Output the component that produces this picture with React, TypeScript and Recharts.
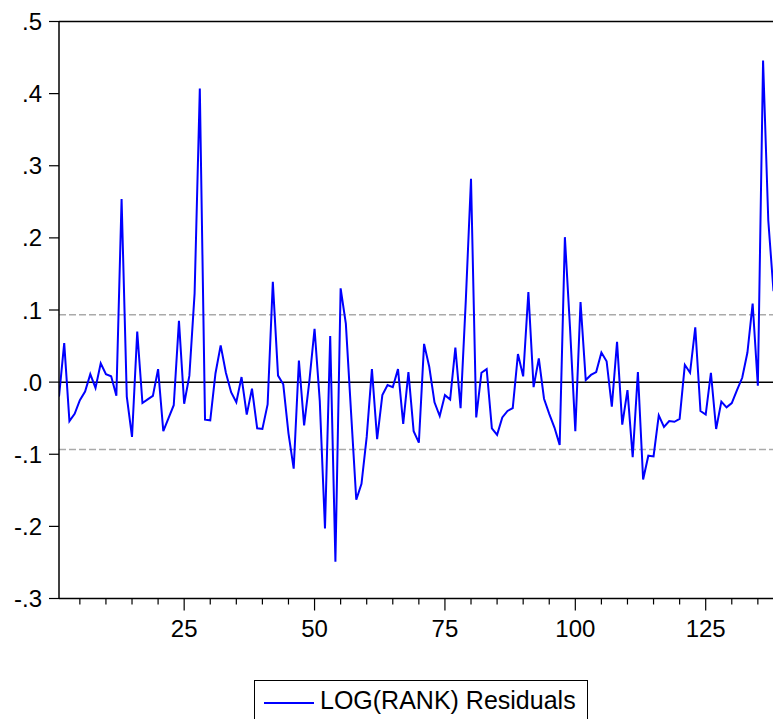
import React from 'react';
import { LineChart, Line, XAxis, YAxis, ReferenceLine } from 'recharts';

const residuals: number[] = [
  -0.020, 0.054, -0.054, -0.044, -0.025, -0.013, 0.011, -0.008, 0.026, 0.011,
  0.008, -0.019, 0.254, -0.020, -0.076, 0.070, -0.029, -0.024, -0.019, 0.018,
  -0.068, -0.050, -0.032, 0.085, -0.030, 0.009, 0.123, 0.407, -0.052, -0.053,
  0.012, 0.051, 0.013, -0.014, -0.028, 0.007, -0.045, -0.009, -0.064, -0.065,
  -0.031, 0.139, 0.009, -0.003, -0.071, -0.120, 0.030, -0.060, 0.001, 0.074,
  -0.026, -0.203, 0.064, -0.249, 0.130, 0.081, -0.042, -0.163, -0.141, -0.076,
  0.018, -0.079, -0.018, -0.004, -0.007, 0.018, -0.058, 0.014, -0.068, -0.084,
  0.053, 0.021, -0.028, -0.047, -0.018, -0.024, 0.048, -0.036, 0.113, 0.282,
  -0.049, 0.013, 0.018, -0.064, -0.073, -0.049, -0.040, -0.036, 0.039, 0.008,
  0.125, -0.007, 0.033, -0.023, -0.044, -0.063, -0.087, 0.201, 0.073, -0.068,
  0.111, 0.003, 0.010, 0.014, 0.041, 0.029, -0.034, 0.056, -0.059, -0.011,
  -0.104, 0.014, -0.135, -0.102, -0.103, -0.046, -0.062, -0.054, -0.055, -0.051,
  0.024, 0.013, 0.076, -0.040, -0.045, 0.013, -0.065, -0.027, -0.035, -0.029,
  -0.011, 0.006, 0.041, 0.109, -0.005, 0.446, 0.224, 0.126,
];

const xTicks: number[] = [5, 10, 15, 20, 25, 30, 35, 40, 45, 50, 55, 60, 65, 70, 75, 80, 85, 90, 95, 100, 105, 110, 115, 120, 125, 130, 135];
const xLabelTicks: number[] = [25, 50, 75, 100, 125];
const yTicks: number[] = [-0.3, -0.2, -0.1, 0, 0.1, 0.2, 0.3, 0.4, 0.5];
const bandValue = 0.0935;
const seriesName = 'LOG(RANK) Residuals';

const data = residuals.map((v, i) => ({ obs: i + 1, resid: v }));

const FONT = '"Liberation Sans", Arial, Helvetica, sans-serif';

const fmtY = (v: number) => {
  const s = Math.abs(v).toFixed(1).replace(/^0/, '');
  return (v < -1e-9 ? '-' : '') + s;
};

const XTick = (props: any) => {
  const { x, y, payload } = props;
  const v = payload.value;
  const major = xLabelTicks.includes(v);
  return (
    <g>
      <line x1={x} x2={x} y1={y} y2={y + (major ? 12 : 6)} stroke="#000" strokeWidth={1.2} />
      {major && (
        <text x={x} y={y + 38.5} textAnchor="middle" fontSize={24} fontFamily={FONT} fill="#000">
          {v}
        </text>
      )}
    </g>
  );
};

const YTick = (props: any) => {
  const { x, y, payload } = props;
  return (
    <text x={x} y={y + 8.6} textAnchor="end" fontSize={24} fontFamily={FONT} fill="#000">
      {fmtY(payload.value)}
    </text>
  );
};

export default function App() {
  return (
    <div style={{ position: 'absolute', left: 0, top: 0, width: 773, height: 719, overflow: 'hidden', background: '#fff' }}>
      <LineChart
        width={800}
        height={719}
        data={data}
        margin={{ top: 21.5, right: 26.5, bottom: 0, left: 0 }}
      >
        <XAxis
          dataKey="obs"
          type="number"
          domain={[1, 138]}
          ticks={xTicks}
          interval={0}
          allowDataOverflow
          height={120.5}
          tickSize={0}
          tickMargin={0}
          tickLine={false}
          axisLine={{ stroke: '#000', strokeWidth: 1.5 }}
          tick={<XTick />}
        />
        <YAxis
          type="number"
          domain={[-0.3, 0.5]}
          ticks={yTicks}
          interval={0}
          allowDataOverflow
          width={59}
          tickSize={10}
          tickMargin={7}
          tickLine={{ stroke: '#000', strokeWidth: 1.2 }}
          axisLine={{ stroke: '#000', strokeWidth: 1.5 }}
          tick={<YTick />}
        />
        <ReferenceLine y={0.5} stroke="#000" strokeWidth={1.5} />
        <ReferenceLine y={bandValue} stroke="#aaaaaa" strokeWidth={1.5} strokeDasharray="7 3" />
        <ReferenceLine y={-bandValue} stroke="#aaaaaa" strokeWidth={1.5} strokeDasharray="7 3" />
        <ReferenceLine y={0} stroke="#000" strokeWidth={1.5} />
        <Line
          type="linear"
          dataKey="resid"
          name={seriesName}
          stroke="#0000ff"
          strokeWidth={2}
          dot={false}
          activeDot={false}
          isAnimationActive={false}
        />
      </LineChart>
      <div
        style={{
          position: 'absolute',
          left: 254,
          top: 680,
          width: 334,
          height: 60,
          border: '1px solid #000',
          boxSizing: 'border-box',
          background: '#fff',
        }}
      >
        <div style={{ position: 'absolute', left: 9, top: 20.5, width: 50, height: 2, background: '#0000ff' }} />
        <div
          style={{
            position: 'absolute',
            left: 65,
            top: 4,
            fontFamily: FONT,
            fontSize: 25,
            lineHeight: '30px',
            color: '#000',
            whiteSpace: 'nowrap',
          }}
        >
          {seriesName}
        </div>
      </div>
    </div>
  );
}
